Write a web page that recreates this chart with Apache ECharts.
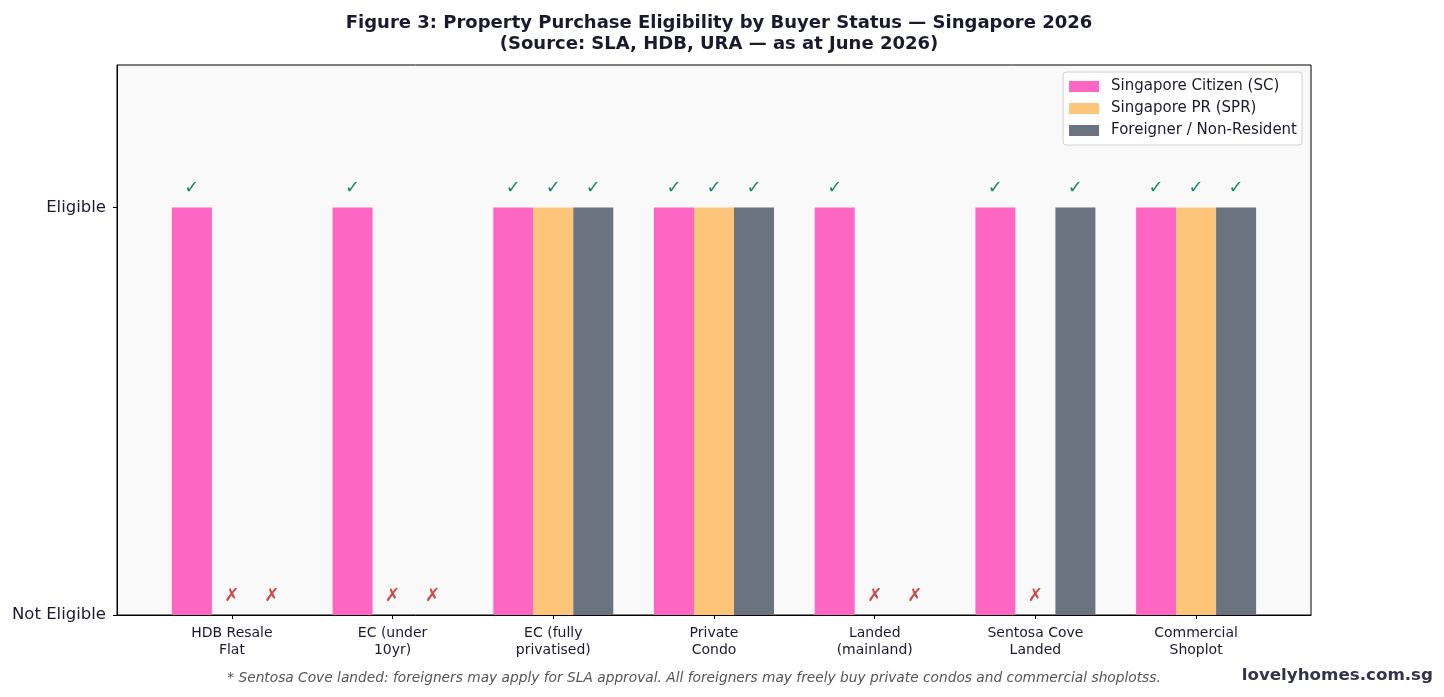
<!DOCTYPE html>
<html>
<head>
<meta charset="utf-8">
<script src="https://cdn.jsdelivr.net/npm/echarts@6/dist/echarts.min.js"></script>
<style>
  html, body { margin: 0; padding: 0; background: #fff; }
  #chart { width: 1444px; height: 697px; }
</style>
</head>
<body>
<div id="chart"></div>
<script>
// eligibility per property type: 1 = eligible, 0 = not eligible
const categories = [
  'HDB Resale\nFlat', 'EC (under\n10yr)', 'EC (fully\nprivatised)', 'Private\nCondo',
  'Landed\n(mainland)', 'Sentosa Cove\nLanded', 'Commercial\nShoplot'
];
const citizen   = [1, 1, 1, 1, 1, 1, 1];
const pr        = [0, 0, 1, 1, 0, 0, 1];
const foreigner = [0, 0, 1, 1, 0, 1, 1];
const yTicks = [0, 1];
const yTickLabels = ['Not Eligible', 'Eligible'];

const FONT = 'DejaVu Sans';
const GREEN = '#1a8a5c';
const RED = '#d04a4a';

function toData(arr) {
  return arr.map((v, i) => ({
    value: [i, v],
    label: { color: v ? GREEN : RED }
  }));
}

function barSeries(name, arr, color) {
  return {
    name: name,
    type: 'bar',
    data: toData(arr),
    barWidth: 40,
    barGap: '0%',
    itemStyle: { color: color },
    label: {
      show: true,
      position: 'top',
      distance: 10,
      fontFamily: FONT,
      fontSize: 18,
      formatter: p => (p.value[1] ? '✓' : '✗')
    }
  };
}

const chart = echarts.init(document.getElementById('chart'));
chart.setOption({
  animation: false,
  title: {
    text: 'Figure 3: Property Purchase Eligibility by Buyer Status — Singapore 2026\n(Source: SLA, HDB, URA — as at June 2026)',
    left: 714,
    textAlign: 'center',
    top: 8,
    textStyle: {
      fontFamily: FONT, fontSize: 18, fontWeight: 'bold', color: '#1a1a2e', lineHeight: 21
    }
  },
  legend: {
    orient: 'vertical',
    right: 142,
    top: 72,
    icon: 'rect',
    itemWidth: 30,
    itemHeight: 11,
    itemGap: 7,
    padding: [7, 5, 7, 6],
    backgroundColor: '#fff',
    borderColor: '#d0d0d0',
    borderWidth: 1,
    borderRadius: 3,
    textStyle: { fontFamily: FONT, fontSize: 15, color: '#1a1a2e', padding: [0, 0, 0, 7] }
  },
  grid: {
    left: 117, right: 133, top: 65, bottom: 82,
    show: true, backgroundColor: '#f9f9f9', borderColor: '#000', borderWidth: 1
  },
  xAxis: {
    type: 'value',
    min: -0.715,
    max: 6.715,
    splitLine: { show: false },
    axisLine: { show: true, onZero: false, lineStyle: { color: '#000' } },
    axisTick: { show: true, customValues: categories.map((c, i) => i), length: 4, lineStyle: { color: '#000' } },
    axisLabel: {
      customValues: categories.map((c, i) => i),
      formatter: v => categories[Math.round(v)],
      fontFamily: FONT, fontSize: 14, color: '#1a1a2e', lineHeight: 17, margin: 10
    }
  },
  yAxis: {
    type: 'value',
    min: 0,
    max: 1.35,
    splitLine: { show: false },
    axisLine: { show: true, onZero: false, lineStyle: { color: '#000' } },
    axisTick: { show: true, customValues: yTicks, length: 4, lineStyle: { color: '#000' } },
    axisLabel: {
      customValues: yTicks,
      formatter: v => yTickLabels[yTicks.indexOf(v)],
      fontFamily: FONT, fontSize: 16.5, color: '#1a1a2e', margin: 11
    }
  },
  graphic: [
    {
      type: 'text',
      x: 694, y: 678,
      style: {
        text: '* Sentosa Cove landed: foreigners may apply for SLA approval. All foreigners may freely buy private condos and commercial shoplotss.',
        fontFamily: FONT, fontSize: 13.75, fontStyle: 'italic', fill: '#555',
        align: 'center', verticalAlign: 'middle'
      }
    },
    {
      type: 'text',
      x: 1433, y: 676,
      style: {
        text: 'lovelyhomes.com.sg',
        fontFamily: FONT, fontSize: 16.7, fontWeight: 'bold', fill: '#33334a',
        align: 'right', verticalAlign: 'middle'
      }
    }
  ],
  series: [
    barSeries('Singapore Citizen (SC)', citizen, '#ff66c4'),
    barSeries('Singapore PR (SPR)', pr, '#fdc57a'),
    barSeries('Foreigner / Non-Resident', foreigner, '#6b7280')
  ]
});
</script>
</body>
</html>
